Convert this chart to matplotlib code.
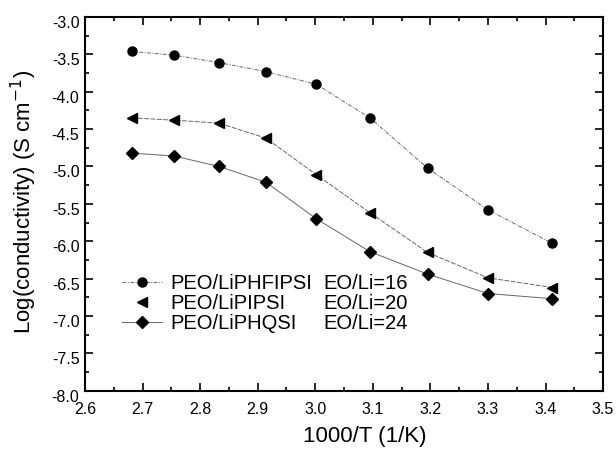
import matplotlib
matplotlib.use("Agg")
import matplotlib.pyplot as plt
import matplotlib.transforms as mtransforms
from matplotlib.ticker import MultipleLocator, FormatStrFormatter
from matplotlib.lines import Line2D

plt.rcParams['font.family'] = ['Liberation Sans', 'DejaVu Sans']

inv_T = [2.681, 2.755, 2.833, 2.914, 3.002, 3.095, 3.195, 3.300, 3.412]
log_phfipsi = [-3.46, -3.51, -3.61, -3.73, -3.90, -4.35, -5.02, -5.58, -6.03]
log_pipsi = [-4.35, -4.38, -4.42, -4.62, -5.11, -5.62, -6.15, -6.49, -6.62]
log_phqsi = [-4.82, -4.86, -5.00, -5.21, -5.70, -6.14, -6.44, -6.70, -6.77]

names = ["PEO/LiPHFIPSI", "PEO/LiPIPSI", "PEO/LiPHQSI"]
ratios = ["EO/Li=16", "EO/Li=20", "EO/Li=24"]

fig = plt.figure(figsize=(6.16, 4.49), dpi=100)
ax = fig.add_axes([0.138, 0.130, 0.841, 0.832])

lc = '#666666'
h1, = ax.plot(inv_T, log_phfipsi, color=lc, lw=0.7, ls=(0, (4, 1.5, 1, 1.5)),
              marker='o', ms=6.5, mfc='black', mec='black')
h2, = ax.plot(inv_T, log_pipsi, color=lc, lw=0.7, ls=(0, (5, 1.5)),
              marker='<', ms=7, mfc='black', mec='black')
h3, = ax.plot(inv_T, log_phqsi, color=lc, lw=0.7, ls='-',
              marker='D', ms=6, mfc='black', mec='black')

ax.set_xlim(2.6, 3.5)
ax.set_ylim(-8.0, -3.0)
ax.xaxis.set_major_locator(MultipleLocator(0.1))
ax.xaxis.set_minor_locator(MultipleLocator(0.05))
ax.yaxis.set_major_locator(MultipleLocator(0.5))
ax.yaxis.set_minor_locator(MultipleLocator(0.25))
ax.xaxis.set_major_formatter(FormatStrFormatter('%.1f'))
ax.yaxis.set_major_formatter(FormatStrFormatter('%.1f'))

for s in ax.spines.values():
    s.set_linewidth(1.5)
ax.tick_params(which='both', direction='in', top=True, right=True, width=1.2)
ax.tick_params(which='major', length=6)
ax.tick_params(which='minor', length=3)
ax.tick_params(axis='x', which='major', labelsize=11.5, pad=8)
ax.tick_params(axis='y', which='major', labelsize=11.5, pad=4)

offset = mtransforms.ScaledTranslation(0, -5 / 100, fig.dpi_scale_trans)
for lab in ax.get_yticklabels():
    lab.set_transform(lab.get_transform() + offset)

ax.set_xlabel("1000/T (1/K)", fontsize=16, va='center')
ax.xaxis.set_label_coords(0.54, -0.122)
ax.set_ylabel("Log(conductivity) (S cm$^{-1}$)", fontsize=16, va='center')
ax.yaxis.set_label_coords(-0.118, 0.505)

# legend handle for the triangle series shows only the marker, as in the original
h2_leg = Line2D([], [], lw=0, marker='<', ms=7, mfc='black', mec='black')

leg1 = ax.legend([h1, h2_leg, h3], names, loc='center left',
                 bbox_to_anchor=(0.071, 0.234), frameon=False, fontsize=14.5,
                 handlelength=2.0, handletextpad=0.4, labelspacing=0.05,
                 borderpad=0, borderaxespad=0)
ax.add_artist(leg1)
blank = [Line2D([], [], lw=0) for _ in ratios]
ax.legend(blank, ratios, loc='center left', bbox_to_anchor=(0.461, 0.234),
          frameon=False, fontsize=14.5, handlelength=0, handletextpad=0,
          labelspacing=0.05, borderpad=0, borderaxespad=0)

fig.savefig("out.png", dpi=100)
